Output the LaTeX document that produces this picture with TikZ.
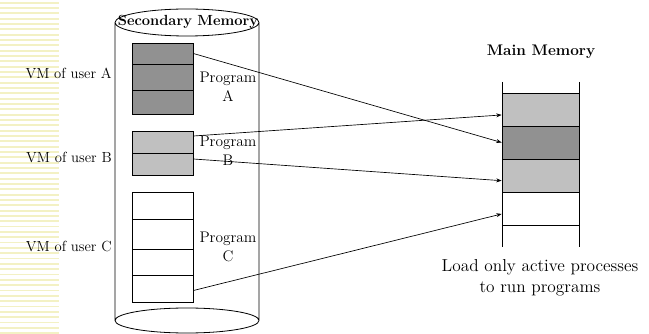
\documentclass[tikz,border=0pt]{standalone}
\usepackage{tikz}
\usetikzlibrary{arrows.meta}
\definecolor{stripe}{RGB}{243,241,196}
\definecolor{darkcell}{RGB}{145,145,145}
\definecolor{lightcell}{RGB}{192,192,192}

\begin{document}
\begin{tikzpicture}[x=0.75pt,y=-0.75pt,
  font=\fontsize{11}{14}\selectfont,
  cell/.style={draw,line width=0.6pt,minimum width=45.75pt,inner sep=0pt},
  page/.style={draw,line width=0.6pt,minimum width=57.75pt,minimum height=24.75pt,inner sep=0pt},
  link/.style={-{Stealth[length=4pt,width=3pt]},line width=0.5pt}]
					\useasboundingbox (0,0) rectangle (649,334);
					\foreach \y in {2.7,8.03,...,334}
						\draw[stripe,line width=1.4pt] (0,\y) -- (59,\y);
					% secondary memory
					\draw[line width=0.6pt]
					(115,22.5) -- (115,320.5)
					(259,22.5) -- (259,320.5)
					(187,22.5) ellipse [x radius=72,y radius=13.5]
					(187,320.5) ellipse [x radius=72,y radius=12.5]
					;
					\node[font=\fontsize{11}{14}\selectfont\bfseries] (sm) at (188,22) {Secondary Memory};
					\node[cell,fill=darkcell,minimum height=15.75pt] (a1) at (162.5,53.5) {};
					\node[cell,fill=darkcell,minimum height=19.5pt] (a2) at (162.5,77) {};
					\node[cell,fill=darkcell,minimum height=18pt] (a3) at (162.5,102) {};
					\node[cell,fill=lightcell,minimum height=16.5pt] (b1) at (162.5,142) {};
					\node[cell,fill=lightcell,minimum height=16.5pt] (b2) at (162.5,164) {};
					\node[cell,minimum height=20.25pt] (c1) at (162.5,205.5) {};
					\node[cell,minimum height=22.5pt] (c2) at (162.5,234) {};
					\node[cell,minimum height=19.5pt] (c3) at (162.5,262) {};
					\node[cell,minimum height=20.25pt] (c4) at (162.5,288.5) {};
					\node[align=center,font=\fontsize{11.5}{14}\selectfont] (pa) at (228,87) {Program\\A};
					\node[align=center,font=\fontsize{11.5}{14}\selectfont] (pb) at (228,151) {Program\\B};
					\node[align=center,font=\fontsize{11.5}{14}\selectfont] (pc) at (228,247) {Program\\C};
					\node[anchor=east,inner sep=0pt] (ua) at (112,73) {VM of user A};
					\node[anchor=east,inner sep=0pt] (ub) at (112,157) {VM of user B};
					\node[anchor=east,inner sep=0pt] (uc) at (112,246) {VM of user C};
					% main memory
					\node[font=\fontsize{11.5}{14}\selectfont\bfseries] (mm) at (541,51.5) {Main Memory};
					\draw[line width=0.6pt] (502,82) -- (502,247) (579,82) -- (579,247);
					\node[page,fill=lightcell] (m1) at (540.5,109.5) {};
					\node[page,fill=darkcell] (m2) at (540.5,142.5) {};
					\node[page,fill=lightcell] (m3) at (540.5,175.5) {};
					\node[page] (m4) at (540.5,208.5) {};
					\node[align=center,font=\fontsize{13}{16}\selectfont] (note) at (540,278) {Load only active processes\\to run programs};
					\path[link] (a1.east) edge (m2.west);
					\path[link] ([yshift=4.5pt]b1.east) edge ([yshift=-4.1pt]m1.west);
					\path[link] ([yshift=3.75pt]b2.east) edge ([yshift=-3.9pt]m3.west);
					\path[link] ([yshift=-1.5pt]c4.east) edge ([yshift=-4.1pt]m4.west);
				\end{tikzpicture}
\end{document}
